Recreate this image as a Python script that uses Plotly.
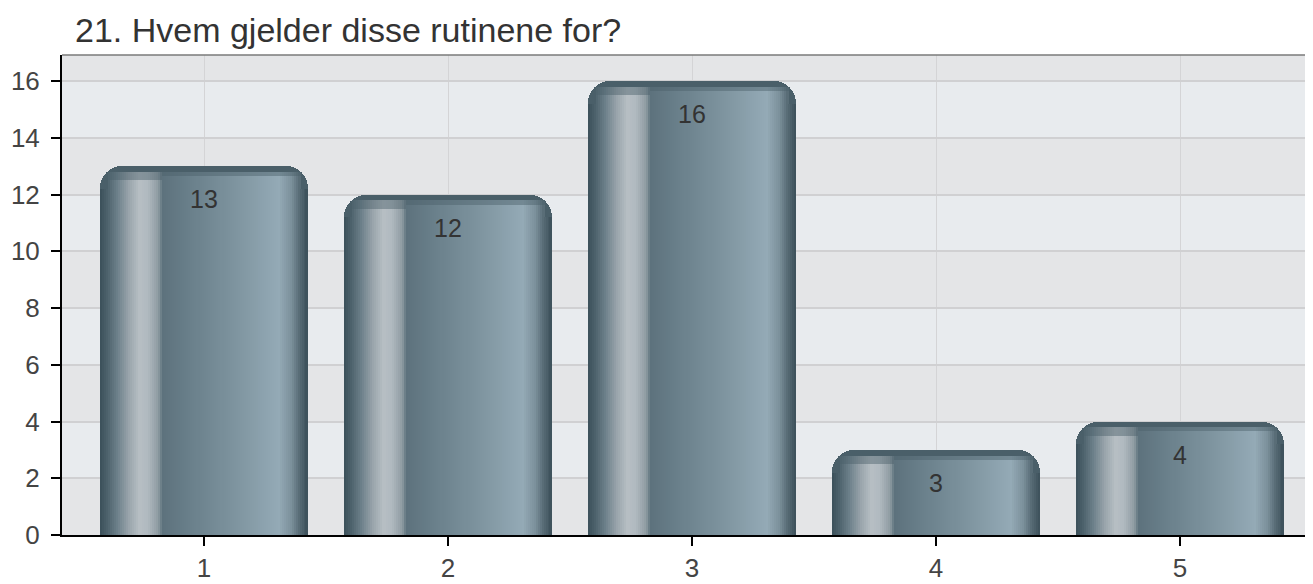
import plotly.graph_objects as go

# ---- data ----
categories = [1, 2, 3, 4, 5]
values = [13, 12, 16, 3, 4]
y_ticks = [0, 2, 4, 6, 8, 10, 12, 14, 16]
title_text = "21. Hvem gjelder disse rutinene for?"

# ---- style ----
BAR_W = 0.85
N = 104
stops = [
    (0.00, "#3b4f59"), (0.03, "#4a5f69"), (0.08, "#6a7e88"), (0.14, "#9aa5ac"),
    (0.19, "#b7bfc4"), (0.23, "#b0b9bf"), (0.28, "#8e9ba2"), (0.30, "#5d727d"),
    (0.45, "#6b818c"), (0.65, "#7e949f"), (0.86, "#94aab6"), (0.92, "#7b909b"),
    (0.96, "#566a74"), (1.00, "#3c505a"),
]


def hex2rgb(h):
    h = h.lstrip("#")
    return tuple(int(h[i:i + 2], 16) for i in (0, 2, 4))


def grad(f):
    for (f0, c0), (f1, c1) in zip(stops[:-1], stops[1:]):
        if f0 <= f <= f1:
            t = 0 if f1 == f0 else (f - f0) / (f1 - f0)
            a, b = hex2rgb(c0), hex2rgb(c1)
            return tuple(a[i] + (b[i] - a[i]) * t for i in range(3))
    return hex2rgb(stops[-1][1])


def mix(c, d, t):
    d = hex2rgb(d)
    return tuple(c[i] * (1 - t) + d[i] * t for i in range(3))


def css(c):
    return "rgb(%d,%d,%d)" % tuple(round(v) for v in c)


fig = go.Figure()

# base rounded bar
fig.add_trace(go.Bar(
    x=categories, y=values, width=BAR_W,
    marker=dict(color="#4a5f69", line=dict(width=0), cornerradius=22),
    hoverinfo="skip", showlegend=False,
))

sw = BAR_W / N
# cap layer (darker, taller)
for i in range(N):
    f = (i + 0.5) / N
    if f < 0.035 or f > 0.965:
        continue
    off = -BAR_W / 2 + i * sw
    w = min(sw * 1.5, BAR_W / 2 - off)
    col = mix(grad(f), "#4a5f69", 0.45)
    fig.add_trace(go.Bar(
        x=categories, y=[v - 0.2 for v in values], width=w, offset=off,
        marker=dict(color=css(col), line=dict(width=0)),
        hoverinfo="skip", showlegend=False,
    ))

# main gradient layer
for i in range(N):
    f = (i + 0.5) / N
    if f < 0.035 or f > 0.965:
        cap = 0.8
    elif f < 0.30:
        cap = 0.5
    else:
        cap = 0.35
    off = -BAR_W / 2 + i * sw
    w = min(sw * 1.5, BAR_W / 2 - off)
    fig.add_trace(go.Bar(
        x=categories, y=[v - cap for v in values], width=w, offset=off,
        marker=dict(color=css(grad(f)), line=dict(width=0)),
        hoverinfo="skip", showlegend=False,
    ))

# value labels
for c, v in zip(categories, values):
    fig.add_annotation(x=c, y=v, text=str(v), showarrow=False, yshift=-33,
                       font=dict(family="Liberation Sans, Arial", size=25, color="#333333"))

# alternating background bands
shapes = []
for k in range(1, len(y_ticks), 2):
    lo = y_ticks[k]
    hi = y_ticks[k + 1] if k + 1 < len(y_ticks) else 16.92
    shapes.append(dict(type="rect", xref="paper", yref="y", x0=0, x1=1, y0=lo, y1=hi,
                       fillcolor="#e8ebee", line=dict(width=0), layer="below"))
shapes.append(dict(type="line", xref="paper", yref="paper", x0=0, x1=1, y0=1, y1=1,
                   line=dict(color="#7a7a7a", width=1.5)))

# page body has an 8px margin -> figure sized to fit the window
W, H = 1305, 576
fig.update_layout(
    width=W, height=H,
    margin=dict(l=54, r=0, t=47, b=49, autoexpand=False),
    paper_bgcolor="white", plot_bgcolor="#e4e5e7",
    barmode="overlay", bargap=0,
    shapes=shapes,
    title=dict(text=title_text, x=67 / W, xanchor="left", xref="container",
               y=1 - 22 / H, yanchor="middle", yref="container",
               font=dict(family="Liberation Sans, Arial", size=34, color="#333333")),
    font=dict(family="Liberation Sans, Arial", size=26, color="#444444"),
    showlegend=False,
)
fig.update_xaxes(
    range=[0.418, 5.545], tickvals=categories, ticktext=[str(c) for c in categories],
    showgrid=True, gridcolor="#d4d4d6", gridwidth=1,
    showline=True, linecolor="black", linewidth=2,
    ticks="outside", ticklen=9, tickwidth=2, tickcolor="black",
    zeroline=False, fixedrange=True, automargin=False,
)
fig.update_yaxes(
    range=[0, 16.92], tickvals=y_ticks,
    showgrid=True, gridcolor="#d0d0d2", gridwidth=1.5,
    showline=True, linecolor="black", linewidth=2,
    ticks="outside", ticklen=9, tickwidth=2, tickcolor="black",
    ticklabelstandoff=6,
    zeroline=False, fixedrange=True, automargin=False,
)

fig.write_html("out.html")
